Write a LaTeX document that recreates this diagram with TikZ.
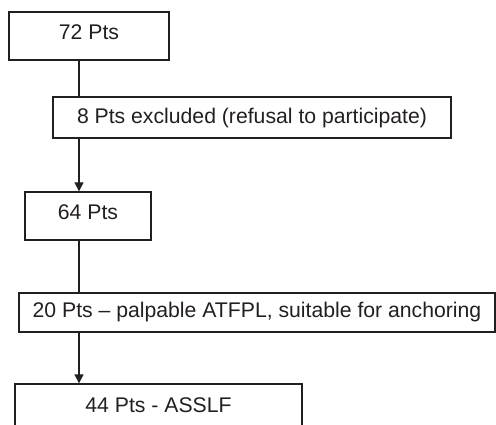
\documentclass[tikz,border=0pt]{standalone}
\usepackage{fontspec}
\setmainfont{Liberation Sans}
\usetikzlibrary{arrows.meta}
\definecolor{ink}{HTML}{231F20}
\tikzset{
  box/.style={draw=ink, line width=1.4pt, rectangle, inner sep=0pt, text=ink,
    font=\fontsize{21.2}{24}\selectfont, text height=15.2pt},
  conn/.style={draw=ink, line width=1.4pt},
  arr/.style={conn, -{Triangle[length=9pt,width=9pt]}}
}
\begin{document}
\begin{tikzpicture}[x=1pt,y=-1pt]
\useasboundingbox (0,0) rectangle (496,425);
\clip (0,0) rectangle (496,425);
\coordinate (spine) at (79,0);
\node[box, minimum width=160pt, minimum height=48pt, text depth=9pt] (b1) at (89,36) {72 Pts};
\node[box, minimum width=398pt, minimum height=41pt, text depth=4pt] (b2) at (252,117.5) {8 Pts excluded (refusal to participate)};
\node[box, minimum width=126pt, minimum height=48pt, text depth=9pt] (b3) at (88,216) {64 Pts};
\node[box, minimum width=476pt, minimum height=39pt, text depth=5pt] (b4) at (257,312.5) {20 Pts -- palpable ATFPL, suitable for anchoring};
\node[box, minimum width=287pt, minimum height=43pt, text depth=1pt] (b5) at (158.5,405.5) {44 Pts - ASSLF};
\draw[conn] (b1.south -| spine) -- (b2.north -| spine);
\draw[arr] (b2.south -| spine) -- (b3.north -| spine);
\draw[conn] (b3.south -| spine) -- (b4.north -| spine);
\draw[arr] (b4.south -| spine) -- (b5.north -| spine);
\end{tikzpicture}
\end{document}
